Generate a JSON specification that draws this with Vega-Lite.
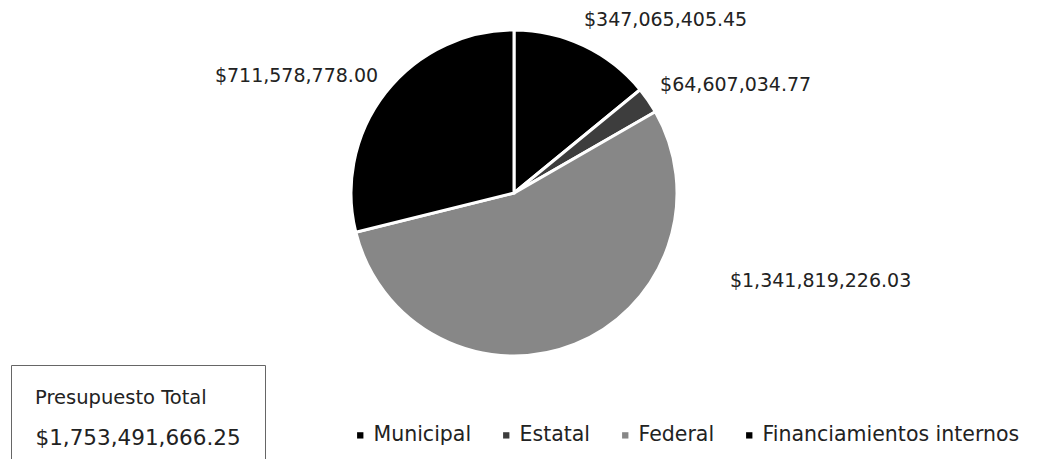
{
  "$schema": "https://vega.github.io/schema/vega-lite/v6.json",
  "width": 1028,
  "height": 386,
  "autosize": {"type": "none"},
  "padding": {"left": 0, "top": 0, "right": 14, "bottom": 73},
  "background": "white",
  "config": {"view": {"stroke": null}, "font": "DejaVu Sans"},
  "datasets": {
    "presupuesto": [
      {"fuente": "Municipal", "monto": 347065405.45, "etiqueta": "$347,065,405.45", "orden": 1},
      {"fuente": "Estatal", "monto": 64607034.77, "etiqueta": "$64,607,034.77", "orden": 2},
      {"fuente": "Federal", "monto": 1341819226.03, "etiqueta": "$1,341,819,226.03", "orden": 3},
      {"fuente": "Financiamientos internos", "monto": 711578778.00, "etiqueta": "$711,578,778.00", "orden": 4}
    ],
    "total": [{"total": "$1,753,491,666.25"}]
  },
  "data": {"name": "presupuesto"},
  "layer": [
    {
      "mark": {"type": "arc", "outerRadius": 163, "stroke": "white", "strokeWidth": 3},
      "encoding": {
        "theta": {"field": "monto", "type": "quantitative", "stack": true},
        "order": {"field": "orden", "type": "quantitative"},
        "color": {
          "field": "fuente",
          "type": "nominal",
          "scale": {
            "domain": ["Municipal", "Estatal", "Federal", "Financiamientos internos"],
            "range": ["#000000", "#3d3d3d", "#878787", "#000000"]
          },
          "legend": {
            "orient": "none",
            "legendX": 350,
            "legendY": 425,
            "direction": "horizontal",
            "columns": 4,
            "title": null,
            "symbolType": "square",
            "symbolSize": 40,
            "symbolStrokeWidth": 0,
            "labelFontSize": 20.5,
            "labelFont": "DejaVu Sans",
            "labelColor": "#222222",
            "labelOffset": 3,
            "labelLimit": 400,
            "columnPadding": 24
          }
        }
      }
    },
    {
      "mark": {"type": "text", "radius": 200, "dx": 66, "dy": 8, "fontSize": 19, "font": "DejaVu Sans", "color": "#222222", "baseline": "middle"},
      "encoding": {
        "theta": {"field": "monto", "type": "quantitative", "stack": true},
        "order": {"field": "orden", "type": "quantitative"},
        "detail": {"field": "fuente", "type": "nominal"},
        "text": {"condition": {"test": "datum.fuente === 'Municipal'", "field": "etiqueta"}, "value": ""}
      }
    },
    {
      "mark": {"type": "text", "radius": 200, "dx": 57, "dy": 6, "fontSize": 19, "font": "DejaVu Sans", "color": "#222222", "baseline": "middle"},
      "encoding": {
        "theta": {"field": "monto", "type": "quantitative", "stack": true},
        "order": {"field": "orden", "type": "quantitative"},
        "detail": {"field": "fuente", "type": "nominal"},
        "text": {"condition": {"test": "datum.fuente === 'Estatal'", "field": "etiqueta"}, "value": ""}
      }
    },
    {
      "mark": {"type": "text", "radius": 200, "dx": 232, "dy": -98, "fontSize": 19, "font": "DejaVu Sans", "color": "#222222", "baseline": "middle"},
      "encoding": {
        "theta": {"field": "monto", "type": "quantitative", "stack": true},
        "order": {"field": "orden", "type": "quantitative"},
        "detail": {"field": "fuente", "type": "nominal"},
        "text": {"condition": {"test": "datum.fuente === 'Federal'", "field": "etiqueta"}, "value": ""}
      }
    },
    {
      "mark": {"type": "text", "radius": 200, "dx": -60, "dy": 6, "fontSize": 19, "font": "DejaVu Sans", "color": "#222222", "baseline": "middle"},
      "encoding": {
        "theta": {"field": "monto", "type": "quantitative", "stack": true},
        "order": {"field": "orden", "type": "quantitative"},
        "detail": {"field": "fuente", "type": "nominal"},
        "text": {"condition": {"test": "datum.fuente === 'Financiamientos internos'", "field": "etiqueta"}, "value": ""}
      }
    },
    {
      "data": {"name": "total"},
      "mark": {"type": "point", "opacity": 0},
      "encoding": {
        "shape": {
          "field": "total",
          "type": "nominal",
          "legend": {
            "orient": "none",
            "legendX": 11,
            "legendY": 365,
            "title": "Presupuesto Total",
            "titleFontSize": 19.5,
            "titleFontWeight": "normal",
            "titleFont": "DejaVu Sans",
            "titleColor": "#222222",
            "titlePadding": 20,
            "titleLimit": 400,
            "labelFontSize": 21.5,
            "labelFont": "DejaVu Sans",
            "labelColor": "#222222",
            "labelOffset": -21,
            "labelLimit": 400,
            "symbolSize": 0,
            "symbolOpacity": 0,
            "symbolStrokeWidth": 0,
            "padding": 24,
            "strokeColor": "#666666",
            "encode": {"legend": {"enter": {"strokeDash": {"value": [3, 2]}}, "update": {"strokeDash": {"value": [3, 2]}}}}
          }
        }
      }
    }
  ]
}
